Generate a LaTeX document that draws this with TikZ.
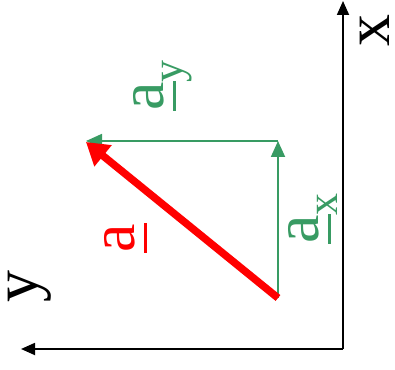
\documentclass[tikz,border=0pt]{standalone}
\usepackage{fontspec}
\setmainfont{Liberation Serif}
\usetikzlibrary{arrows.meta}
\definecolor{vgreen}{RGB}{56,155,99}
\definecolor{vred}{RGB}{255,0,0}
\newcommand\bigf{\fontsize{64}{64}\selectfont}
\newcommand\subf{\fontsize{44}{44}\selectfont}
\newcommand\ulA{\leavevmode\rlap{\rule[-0.2em]{0.46em}{0.045em}}a}
\begin{document}
\begin{tikzpicture}[x=1pt,y=1pt,
  axis/.style={line width=1.8pt,-{Triangle[length=14pt,width=12pt]}},
  comp/.style={vgreen,line width=1.8pt,-{Triangle[length=16pt,width=14pt]}},
  vec/.style={vred,line width=7.5pt,-{Triangle[length=22pt,width=26pt]}},
  lab/.style={rotate=90,anchor=base west,inner sep=0pt,font=\bigf}]
\useasboundingbox (0,0) rectangle (395,369);
\coordinate (O) at (343,20);
\coordinate (X) at (343,368);
\coordinate (Y) at (21,20);
\coordinate (S) at (278,71);
\coordinate (C) at (278,228);
\coordinate (T) at (86,228);
\coordinate (R) at (86,227);
\draw[axis] (O) -- (X);
\draw[axis] (O) -- (Y);
\draw[comp] (S) -- (C);
\draw[comp] (C) -- (T);
\draw[vec] (S) -- (R);
\node[lab] (lx) at (389,322) {x};
\node[lab] (ly) at (37,66) {y};
\node[lab,vred] (la) at (134,116) {\ulA};
\node[lab,vgreen] (lax) at (318,125) {\ulA\raisebox{-0.3em}{\subf x}};
\node[lab,vgreen] (lay) at (163,258) {\ulA\raisebox{-0.3em}{\subf y}};
\end{tikzpicture}
\end{document}
